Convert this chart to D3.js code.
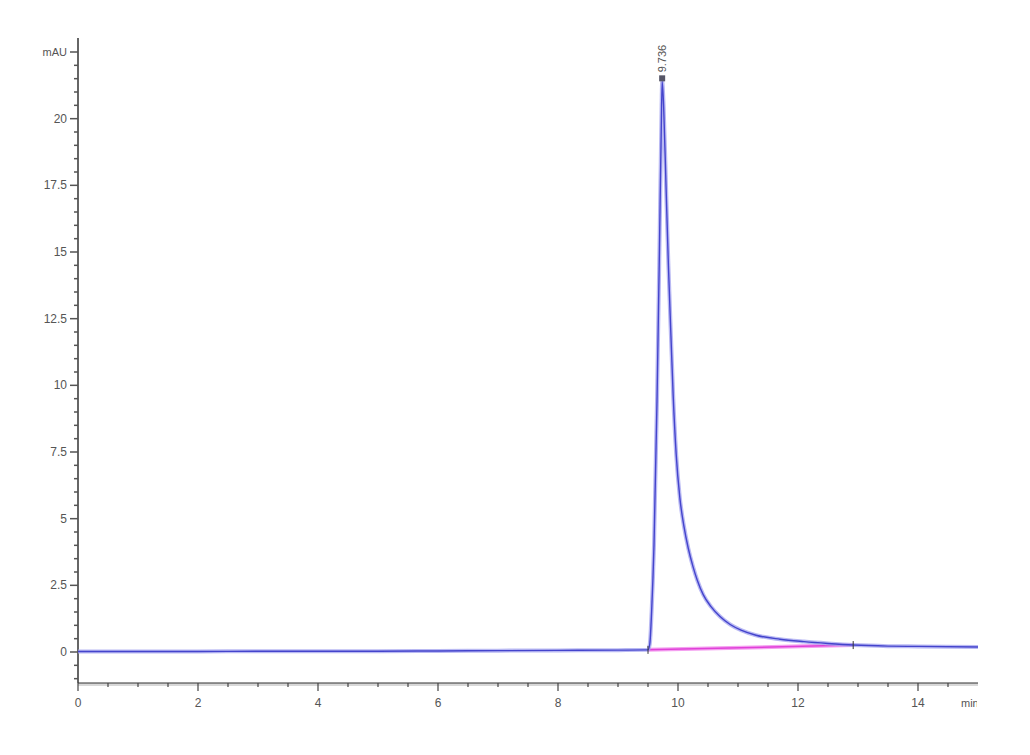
<!DOCTYPE html>
<html>
<head>
<meta charset="utf-8">
<script src="https://cdn.jsdelivr.net/npm/d3@7"></script>
<style>
  html, body { margin: 0; padding: 0; background: #fff; }
  svg { display: block; }
  text { font-family: "Liberation Sans", Arial, sans-serif; }
</style>
</head>
<body>
<svg id="chart" width="1030" height="755"></svg>
<script>
// ---- data ----
const times = [0, 1, 2, 3, 4, 5, 6, 7, 8, 9, 9.5, 9.53, 9.56, 9.6, 9.65, 9.69, 9.72, 9.736,
  9.76, 9.8, 9.84, 9.88, 9.92, 9.97, 10.03, 10.1, 10.17, 10.25, 10.32, 10.42, 10.55, 10.7,
  10.87, 11.05, 11.3, 11.7, 12.1, 12.5, 12.92, 13.5, 14, 15];
const absorb = [0.02, 0.02, 0.02, 0.03, 0.03, 0.03, 0.04, 0.05, 0.06, 0.07, 0.08, 0.3, 1.5, 4.0, 9.4, 15.0, 19.5, 21.4,
  20.5, 17.5, 14.5, 12.0, 9.6, 7.4, 5.8, 4.7, 3.9, 3.2, 2.7, 2.15, 1.7, 1.33,
  1.03, 0.82, 0.63, 0.48, 0.39, 0.32, 0.26, 0.22, 0.21, 0.19];
const baselineTimes = [9.5, 12.92];
const baselineVals = [0.08, 0.26];
const peakTime = 9.736;
const peakHeight = 21.4;
const peakLabel = "9.736";
const xTicks = [0, 2, 4, 6, 8, 10, 12, 14];
const yTicks = [0, 2.5, 5, 7.5, 10, 12.5, 15, 17.5, 20];
const yTickLabels = ["0", "2.5", "5", "7.5", "10", "12.5", "15", "17.5", "20"];
const yUnit = "mAU";
const xUnit = "min";

// ---- layout ----
const svg = d3.select("#chart");
const x = d3.scaleLinear().domain([0, 15]).range([78, 978]);
const y = d3.scaleLinear().domain([0, 22.5]).range([652, 52]);
const yBottom = 683, yTop = 38;

// grey band under x axis
svg.append("rect").attr("x", 78).attr("y", yBottom).attr("width", 900).attr("height", 3).attr("fill", "#d8d8d8");

// x axis
const xAxis = svg.append("g").attr("transform", `translate(0,${yBottom})`);
xAxis.append("line").attr("x1", 78).attr("x2", 978).attr("stroke", "#333").attr("stroke-width", 1.2);
const xMinor = d3.range(0, 15, 0.5);
xAxis.selectAll(".xmin").data(xMinor).enter().append("line")
  .attr("x1", d => x(d)).attr("x2", d => x(d)).attr("y1", 0)
  .attr("y2", d => (xTicks.includes(d) ? 8 : 4))
  .attr("stroke", "#444").attr("stroke-width", 1.2);
xAxis.selectAll(".xlab").data(xTicks).enter().append("text")
  .attr("x", d => x(d)).attr("y", 24).attr("text-anchor", "middle")
  .attr("font-size", 12).attr("fill", "#555").text(d => d);
svg.append("clipPath").attr("id", "unitclip").append("rect").attr("x", 955).attr("y", 0).attr("width", 22).attr("height", 30);
xAxis.append("text").attr("x", 961).attr("y", 24).attr("font-size", 11).attr("fill", "#555").text(xUnit)
  .attr("clip-path", "url(#unitclip)");

// y axis
const yAxis = svg.append("g");
yAxis.append("line").attr("x1", 78).attr("x2", 78).attr("y1", yTop).attr("y2", yBottom).attr("stroke", "#333").attr("stroke-width", 1.5);
const yMinor = d3.range(-1, 22.51, 0.5);
yAxis.selectAll(".ymin").data(yMinor).enter().append("line")
  .attr("x1", d => (Math.abs(d / 2.5 - Math.round(d / 2.5)) < 1e-6 ? 70 : 74)).attr("x2", 78)
  .attr("y1", d => y(d)).attr("y2", d => y(d))
  .attr("stroke", "#555").attr("stroke-width", 1.5);
yAxis.selectAll(".ylab").data(yTicks).enter().append("text")
  .attr("x", 67).attr("y", d => y(d) + 4).attr("text-anchor", "end")
  .attr("font-size", 12).attr("fill", "#555").text((d, i) => yTickLabels[i]);
yAxis.append("text").attr("x", 67).attr("y", y(22.5) + 4).attr("text-anchor", "end")
  .attr("font-size", 11).attr("fill", "#555").text(yUnit);

// integration baseline
const pts = times.map((t, i) => [t, absorb[i]]);
const line = d3.line().x(d => x(d[0])).y(d => y(d[1])).curve(d3.curveMonotoneX);
const bl = baselineTimes.map((t, i) => [t, baselineVals[i]]);
svg.append("path").datum(bl).attr("d", d3.line().x(d => x(d[0])).y(d => y(d[1])))
  .attr("stroke", "#f4a0f0").attr("stroke-width", 4).attr("fill", "none");
svg.append("path").datum(bl).attr("d", d3.line().x(d => x(d[0])).y(d => y(d[1])))
  .attr("stroke", "#e040d8").attr("stroke-width", 1.5).attr("fill", "none");

// trace: halo + core
svg.append("path").datum(pts).attr("d", line)
  .attr("stroke", "#a8a8f0").attr("stroke-width", 4).attr("fill", "none").attr("opacity", 0.8);
svg.append("path").datum(pts).attr("d", line)
  .attr("stroke", "#4444cc").attr("stroke-width", 1.4).attr("fill", "none");

// integration tick marks
bl.forEach(d => {
  svg.append("line").attr("x1", x(d[0])).attr("x2", x(d[0]))
    .attr("y1", y(d[1]) - 4).attr("y2", y(d[1]) + 4).attr("stroke", "#333").attr("stroke-width", 1);
});

// peak marker and label
svg.append("rect").attr("x", x(peakTime) - 3).attr("y", y(peakHeight) - 6).attr("width", 6).attr("height", 6)
  .attr("fill", "#556");
svg.append("text").attr("transform", `translate(${x(peakTime) + 4},${y(peakHeight) - 9}) rotate(-90)`)
  .attr("font-size", 11).attr("fill", "#555").text(peakLabel);
</script>
</body>
</html>
